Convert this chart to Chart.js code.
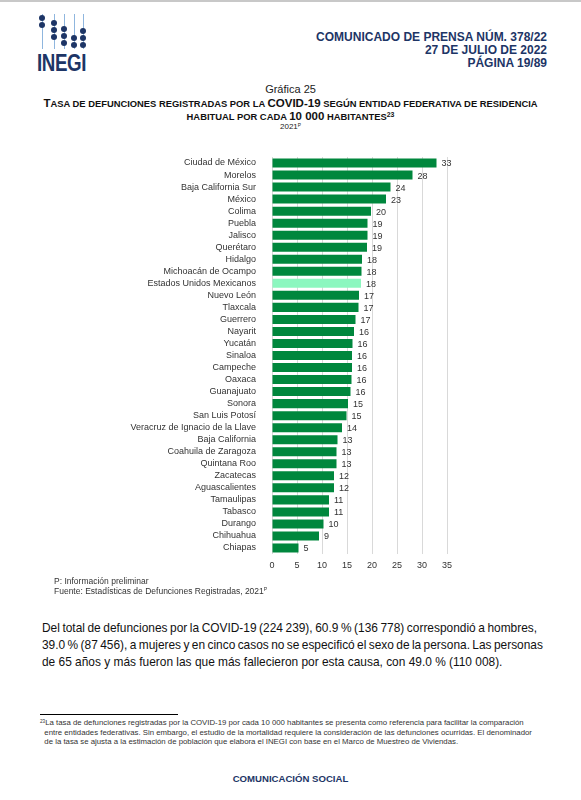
<!DOCTYPE html>
<html lang="es">
<head>
<meta charset="utf-8">
<script src="https://cdn.jsdelivr.net/npm/chart.js@4.4.1/dist/chart.umd.min.js"></script>
<style>
  html, body { margin: 0; padding: 0; background: #fff; }
  body { width: 581px; height: 800px; position: relative; overflow: hidden;
         font-family: "Liberation Sans", Arial, sans-serif; color: #000; }
  .abs { position: absolute; white-space: nowrap; }
  .navy { color: #1d3566; }
  #topline { left: 0; top: 0; width: 581px; height: 2px; background: #c8c8c8; }
  #logo { left: 37px; top: 12px; width: 52px; height: 62px; }
  #logo .ln { position: absolute; top: 2px; width: 1px; height: 35px; background: #8fb6de; }
  #logo .dt { position: absolute; width: 6px; height: 6px; border-radius: 50%; background: #1d3566; }
  #logo .txt { position: absolute; left: 0; top: 37px; font-weight: bold; font-size: 24px;
               letter-spacing: -0.5px; transform: scaleX(0.78); transform-origin: left top; color: #1d3566; }
  #cabecera { right: 34px; top: 31px; text-align: right; font-weight: bold; font-size: 12px; line-height: 13px; }
  #grafica { left: 0; width: 581px; top: 83px; text-align: center; font-size: 11px; color: #222; }
  #titulo { left: 0; width: 581px; top: 97px; text-align: center; font-weight: bold; font-size: 11.5px;
            line-height: 13px; color: #111; }
  #titulo .sc { font-size: 9.4px; }
  #anio { left: 0; width: 581px; top: 122px; text-align: center; font-size: 8px; color: #222; }
  sup { font-size: 60%; vertical-align: 0; position: relative; top: -0.5em; }
  #lienzo { position: absolute; left: 0; top: 150px; }
  #notas { left: 54px; top: 576px; font-size: 8.5px; line-height: 10px; color: #333; }
  #parrafo { left: 42px; top: 620px; font-size: 12px; line-height: 17px; color: #111; }
  #parrafo .linea { display: block; white-space: nowrap; }
  #parrafo .linea span { display: inline-block; }
  #regla { left: 40px; top: 714px; width: 138px; height: 1px; background: #000; }
  #pie { left: 40px; top: 718px; font-size: 7.8px; line-height: 9px; color: #333; }
  #social { left: 0; width: 581px; top: 773px; text-align: center; font-weight: bold; font-size: 9.6px; }
</style>
</head>
<body>
<div id="topline" class="abs"></div>

<div id="logo" class="abs">
  <div class="ln" style="left:5px"></div>
  <div class="ln" style="left:17px"></div>
  <div class="ln" style="left:27px"></div>
  <div class="ln" style="left:37px"></div>
  <div class="ln" style="left:46px"></div>
  <div class="dt" style="left:2px;top:3px"></div>
  <div class="dt" style="left:2px;top:10px"></div>
  <div class="dt" style="left:14px;top:8px"></div>
  <div class="dt" style="left:14px;top:15px"></div>
  <div class="dt" style="left:14px;top:22px"></div>
  <div class="dt" style="left:24px;top:14px"></div>
  <div class="dt" style="left:24px;top:21px"></div>
  <div class="dt" style="left:24px;top:28px"></div>
  <div class="dt" style="left:34px;top:23px"></div>
  <div class="dt" style="left:34px;top:30px"></div>
  <div class="dt" style="left:43px;top:16px"></div>
  <div class="dt" style="left:43px;top:23px"></div>
  <div class="dt" style="left:43px;top:30px"></div>
  <div class="txt">INEGI</div>
</div>

<div id="cabecera" class="abs navy">
  COMUNICADO DE PRENSA NÚM. 378/22<br>
  27 DE JULIO DE 2022<br>
  PÁGINA 19/89
</div>

<div id="grafica" class="abs">Gráfica 25</div>
<div id="titulo" class="abs">T<span class="sc">ASA DE DEFUNCIONES REGISTRADAS POR LA </span>COVID-19<span class="sc"> SEGÚN ENTIDAD FEDERATIVA DE RESIDENCIA</span><br><span class="sc">HABITUAL POR CADA </span>10 000<span class="sc"> HABITANTES</span><sup>23</sup></div>
<div id="anio" class="abs">2021<sup>P</sup></div>

<canvas id="lienzo" width="581" height="430" style="width:581px;height:430px"></canvas>

<div id="notas" class="abs">P: Información preliminar<br>Fuente: Estadísticas de Defunciones Registradas, 2021<sup>P</sup></div>

<div id="parrafo" class="abs">
  <div class="linea"><span>Del total de defunciones por la COVID-19 (224 239), 60.9 % (136 778) correspondió a hombres,</span></div>
  <div class="linea"><span>39.0 % (87 456), a mujeres y en cinco casos no se especificó el sexo de la persona. Las personas</span></div>
  <div class="linea"><span>de 65 años y más fueron las que más fallecieron por esta causa, con 49.0 % (110 008).</span></div>
</div>

<div id="regla" class="abs"></div>
<div id="pie" class="abs">
  <sup>23</sup>La tasa de defunciones registradas por la COVID-19 por cada 10 000 habitantes se presenta como referencia para facilitar la comparación<br>
  &nbsp;&nbsp;entre entidades federativas. Sin embargo, el estudio de la mortalidad requiere la consideración de las defunciones ocurridas. El denominador<br>
  &nbsp;&nbsp;de la tasa se ajusta a la estimación de población que elabora el INEGI con base en el Marco de Muestreo de Viviendas.
</div>

<div id="social" class="abs navy">COMUNICACIÓN SOCIAL</div>

<script>
'use strict'

// datos de la grafica 25
let estados = ['Ciudad de México', 'Morelos', 'Baja California Sur', 'México', 'Colima', 'Puebla',
    'Jalisco', 'Querétaro', 'Hidalgo', 'Michoacán de Ocampo', 'Estados Unidos Mexicanos', 'Nuevo León',
    'Tlaxcala', 'Guerrero', 'Nayarit', 'Yucatán', 'Sinaloa', 'Campeche', 'Oaxaca', 'Guanajuato', 'Sonora',
    'San Luis Potosí', 'Veracruz de Ignacio de la Llave', 'Baja California', 'Coahuila de Zaragoza',
    'Quintana Roo', 'Zacatecas', 'Aguascalientes', 'Tamaulipas', 'Tabasco', 'Durango', 'Chihuahua', 'Chiapas'];
let tasas = [32.9, 28.1, 23.7, 22.8, 19.8, 19.1, 19.1, 19.0, 18.0, 17.9, 17.8, 17.4, 17.3, 16.7, 16.4,
    16.1, 16.0, 16.0, 15.9, 15.7, 15.2, 14.9, 14.0, 13.1, 12.9, 12.9, 12.4, 12.4, 11.4, 11.4, 10.3, 9.4, 5.3];
let ticksX = [0, 5, 10, 15, 20, 25, 30, 35];

let verde = '#00873d';
let verdeClaro = '#8cf7bf';
let colores = estados.map(e => e === 'Estados Unidos Mexicanos' ? verdeClaro : verde);

// el parrafo va justificado: la ultima linea fija el tamaño, las otras se estiran
function ajustarParrafo() {
    let lineas = document.querySelectorAll('#parrafo .linea span');
    let anchos = [495, 501, 461];
    let ultima = lineas[2];
    let fs = 12 * anchos[2] / ultima.getBoundingClientRect().width;
    document.getElementById('parrafo').style.fontSize = fs.toFixed(2) + 'px';
    for (let i = 0; i < 2; i++) {
        let w = lineas[i].getBoundingClientRect().width;
        let espacios = lineas[i].textContent.split(' ').length - 1;
        lineas[i].style.wordSpacing = ((anchos[i] - w) / espacios).toFixed(2) + 'px';
    }
}
ajustarParrafo();

// numeros al final de cada barra
let etiquetas = {
    id: 'etiquetas',
    afterDatasetsDraw(chart) {
        let ctx = chart.ctx;
        let meta = chart.getDatasetMeta(0);
        ctx.save();
        ctx.font = '9px "Liberation Sans", Arial, sans-serif';
        ctx.fillStyle = '#333';
        ctx.textAlign = 'left';
        ctx.textBaseline = 'middle';
        meta.data.forEach((bar, i) => {
            ctx.fillText(Math.round(tasas[i]), bar.x + 5, bar.y + 1);
        });
        ctx.restore();
    }
};

let ctx = document.getElementById('lienzo').getContext('2d');
let grafica = new Chart(ctx, {
    type: 'bar',
    data: {
        labels: estados,
        datasets: [{
            data: tasas,
            backgroundColor: colores,
            borderWidth: 0,
            barPercentage: 0.75,
            categoryPercentage: 1
        }]
    },
    options: {
        indexAxis: 'y',
        responsive: false,
        animation: false,
        layout: { padding: { left: 0, right: 134, top: 7, bottom: 0 } },
        plugins: { legend: { display: false }, tooltip: { enabled: false } },
        scales: {
            x: {
                min: 0,
                max: 35,
                afterFit(scale) { scale.height = 26; scale.paddingLeft = 0; scale.paddingRight = 0; },
                afterBuildTicks(scale) { scale.ticks = ticksX.map(v => ({ value: v })); },
                grid: { color: '#d9d9d9', drawTicks: false },
                border: { display: false },
                ticks: { color: '#333', padding: 6, font: { family: '"Liberation Sans", Arial', size: 9 } }
            },
            y: {
                afterFit(scale) { scale.width = 272; scale.paddingTop = 0; scale.paddingBottom = 0; },
                grid: { display: false },
                border: { display: false },
                ticks: { color: '#333', padding: 8, autoSkip: false, font: { family: '"Liberation Sans", Arial', size: 9 } }
            }
        }
    },
    plugins: [etiquetas]
});
</script>
</body>
</html>
